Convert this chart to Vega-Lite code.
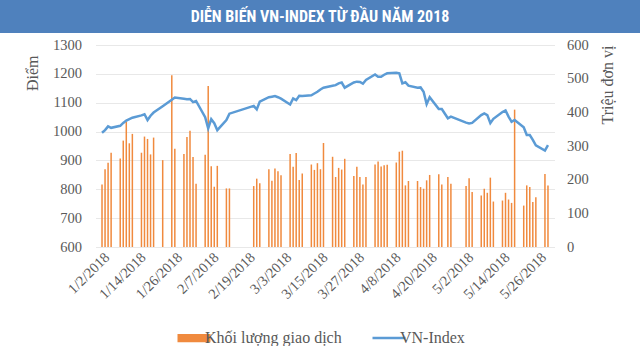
{
  "$schema": "https://vega.github.io/schema/vega-lite/v6.json",
  "padding": 0,
  "background": "white",
  "spacing": 12,
  "center": true,
  "bounds": "flush",
  "align": {"row": "none", "column": "each"},
  "config": {"view": {"stroke": null}, "font": "Liberation Serif"},
  "datasets": {
    "vn": [
      {"date": "2018-01-02", "vol": 186, "idx": 996},
      {"date": "2018-01-03", "vol": 231, "idx": 1005},
      {"date": "2018-01-04", "vol": 250, "idx": 1018},
      {"date": "2018-01-05", "vol": 280, "idx": 1013},
      {"date": "2018-01-08", "vol": 263, "idx": 1020},
      {"date": "2018-01-09", "vol": 316, "idx": 1030},
      {"date": "2018-01-10", "vol": 372, "idx": 1038},
      {"date": "2018-01-11", "vol": 308, "idx": 1043},
      {"date": "2018-01-12", "vol": 336, "idx": 1048},
      {"date": "2018-01-15", "vol": 280, "idx": 1056},
      {"date": "2018-01-16", "vol": 328, "idx": 1060},
      {"date": "2018-01-17", "vol": 321, "idx": 1040},
      {"date": "2018-01-18", "vol": 275, "idx": 1055},
      {"date": "2018-01-19", "vol": 325, "idx": 1066},
      {"date": "2018-01-22", "vol": 258, "idx": 1088},
      {"date": "2018-01-25", "vol": 510, "idx": 1110},
      {"date": "2018-01-26", "vol": 292, "idx": 1118},
      {"date": "2018-01-29", "vol": 276, "idx": 1114},
      {"date": "2018-01-30", "vol": 327, "idx": 1112},
      {"date": "2018-01-31", "vol": 345, "idx": 1113},
      {"date": "2018-02-01", "vol": 267, "idx": 1102},
      {"date": "2018-02-02", "vol": 188, "idx": 1106},
      {"date": "2018-02-05", "vol": 274, "idx": 1050},
      {"date": "2018-02-06", "vol": 478, "idx": 1011},
      {"date": "2018-02-07", "vol": 240, "idx": 1043},
      {"date": "2018-02-08", "vol": 179, "idx": 1029},
      {"date": "2018-02-09", "vol": 241, "idx": 1005},
      {"date": "2018-02-12", "vol": 174, "idx": 1040},
      {"date": "2018-02-13", "vol": 174, "idx": 1062},
      {"date": "2018-02-21", "vol": 181, "idx": 1089},
      {"date": "2018-02-22", "vol": 203, "idx": 1077},
      {"date": "2018-02-23", "vol": 189, "idx": 1104},
      {"date": "2018-02-26", "vol": 231, "idx": 1119},
      {"date": "2018-02-27", "vol": 197, "idx": 1121},
      {"date": "2018-02-28", "vol": 233, "idx": 1123},
      {"date": "2018-03-01", "vol": 225, "idx": 1119},
      {"date": "2018-03-02", "vol": 213, "idx": 1114},
      {"date": "2018-03-05", "vol": 276, "idx": 1094},
      {"date": "2018-03-06", "vol": 238, "idx": 1115},
      {"date": "2018-03-07", "vol": 279, "idx": 1109},
      {"date": "2018-03-08", "vol": 199, "idx": 1124},
      {"date": "2018-03-09", "vol": 218, "idx": 1123},
      {"date": "2018-03-12", "vol": 245, "idx": 1126},
      {"date": "2018-03-13", "vol": 229, "idx": 1132},
      {"date": "2018-03-14", "vol": 249, "idx": 1138},
      {"date": "2018-03-15", "vol": 231, "idx": 1146},
      {"date": "2018-03-16", "vol": 309, "idx": 1152},
      {"date": "2018-03-19", "vol": 268, "idx": 1159},
      {"date": "2018-03-20", "vol": 208, "idx": 1161},
      {"date": "2018-03-21", "vol": 235, "idx": 1167},
      {"date": "2018-03-22", "vol": 230, "idx": 1170},
      {"date": "2018-03-23", "vol": 262, "idx": 1152},
      {"date": "2018-03-26", "vol": 211, "idx": 1170},
      {"date": "2018-03-27", "vol": 238, "idx": 1173},
      {"date": "2018-03-28", "vol": 208, "idx": 1172},
      {"date": "2018-03-29", "vol": 186, "idx": 1166},
      {"date": "2018-03-30", "vol": 208, "idx": 1179},
      {"date": "2018-04-02", "vol": 245, "idx": 1198},
      {"date": "2018-04-03", "vol": 254, "idx": 1190},
      {"date": "2018-04-04", "vol": 239, "idx": 1190},
      {"date": "2018-04-05", "vol": 243, "idx": 1197},
      {"date": "2018-04-06", "vol": 244, "idx": 1202},
      {"date": "2018-04-09", "vol": 251, "idx": 1204},
      {"date": "2018-04-10", "vol": 283, "idx": 1202},
      {"date": "2018-04-11", "vol": 286, "idx": 1167},
      {"date": "2018-04-12", "vol": 183, "idx": 1171},
      {"date": "2018-04-13", "vol": 196, "idx": 1159},
      {"date": "2018-04-16", "vol": 196, "idx": 1152},
      {"date": "2018-04-17", "vol": 178, "idx": 1153},
      {"date": "2018-04-18", "vol": 173, "idx": 1138},
      {"date": "2018-04-19", "vol": 198, "idx": 1095},
      {"date": "2018-04-20", "vol": 214, "idx": 1119},
      {"date": "2018-04-23", "vol": 216, "idx": 1078},
      {"date": "2018-04-24", "vol": 186, "idx": 1078},
      {"date": "2018-04-26", "vol": 208, "idx": 1046},
      {"date": "2018-04-27", "vol": 188, "idx": 1052},
      {"date": "2018-05-02", "vol": 181, "idx": 1031},
      {"date": "2018-05-03", "vol": 204, "idx": 1028},
      {"date": "2018-05-04", "vol": 163, "idx": 1030},
      {"date": "2018-05-07", "vol": 153, "idx": 1057},
      {"date": "2018-05-08", "vol": 173, "idx": 1063},
      {"date": "2018-05-09", "vol": 161, "idx": 1057},
      {"date": "2018-05-10", "vol": 206, "idx": 1029},
      {"date": "2018-05-11", "vol": 135, "idx": 1044},
      {"date": "2018-05-14", "vol": 138, "idx": 1068},
      {"date": "2018-05-15", "vol": 161, "idx": 1073},
      {"date": "2018-05-16", "vol": 141, "idx": 1052},
      {"date": "2018-05-17", "vol": 131, "idx": 1034},
      {"date": "2018-05-18", "vol": 408, "idx": 1040},
      {"date": "2018-05-21", "vol": 123, "idx": 1015},
      {"date": "2018-05-22", "vol": 183, "idx": 988},
      {"date": "2018-05-23", "vol": 178, "idx": 988},
      {"date": "2018-05-24", "vol": 134, "idx": 971},
      {"date": "2018-05-25", "vol": 148, "idx": 952},
      {"date": "2018-05-28", "vol": 217, "idx": 934},
      {"date": "2018-05-29", "vol": 183, "idx": 953}
    ]
  },
  "vconcat": [
    {
      "width": 650,
      "height": 33,
      "view": {"fill": "#4F81BD", "stroke": null},
      "data": {"values": [{"t": "DIỄN BIẾN VN-INDEX TỪ ĐẦU NĂM 2018"}]},
      "mark": {"type": "text", "font": "Roboto Condensed, DejaVu Sans Condensed, Liberation Sans Narrow, Roboto", "fontSize": 16, "fontWeight": "bold", "color": "white", "baseline": "middle", "align": "center", "dx": -5},
      "encoding": {"text": {"field": "t", "type": "nominal"}}
    },
    {
      "width": 459,
      "height": 202,
      "data": {"name": "vn"},
      "encoding": {
        "x": {
          "field": "date",
          "type": "temporal",
          "scale": {
            "type": "utc",
            "nice": false,
            "domain": [
              {"year": 2018, "month": 1, "date": 1, "hours": 12, "utc": true},
              {"year": 2018, "month": 5, "date": 29, "hours": 12, "utc": true}
            ]
          },
          "axis": {
            "title": null,
            "values": [
              {"year": 2018, "month": 1, "date": 2, "utc": true},
              {"year": 2018, "month": 1, "date": 14, "utc": true},
              {"year": 2018, "month": 1, "date": 26, "utc": true},
              {"year": 2018, "month": 2, "date": 7, "utc": true},
              {"year": 2018, "month": 2, "date": 19, "utc": true},
              {"year": 2018, "month": 3, "date": 3, "utc": true},
              {"year": 2018, "month": 3, "date": 15, "utc": true},
              {"year": 2018, "month": 3, "date": 27, "utc": true},
              {"year": 2018, "month": 4, "date": 8, "utc": true},
              {"year": 2018, "month": 4, "date": 20, "utc": true},
              {"year": 2018, "month": 5, "date": 2, "utc": true},
              {"year": 2018, "month": 5, "date": 14, "utc": true},
              {"year": 2018, "month": 5, "date": 26, "utc": true}
            ],
            "labelExpr": "utcFormat(datum.value, '%-m/%-d/%Y')",
            "labelAngle": -45,
            "labelFont": "Liberation Serif",
            "labelFontSize": 14.5,
            "labelColor": "#595959",
            "labelPadding": 3,
            "labelOverlap": false,
            "labelFlush": false,
            "ticks": false,
            "domain": false,
            "grid": false
          }
        }
      },
      "layer": [
        {
          "mark": {"type": "bar", "size": 1.5, "color": "#F08A3E"},
          "encoding": {
            "y": {
              "field": "vol",
              "type": "quantitative",
              "scale": {"domain": [0, 600], "nice": false},
              "axis": {
                "orient": "right",
                "title": "Triệu đơn vị",
                "titleAngle": -90,
                "titleBaseline": "top",
                "titleAnchor": "end",
                "titleFont": "Liberation Serif",
                "titleFontSize": 16,
                "titleFontWeight": "normal",
                "titleColor": "#595959",
                "titlePadding": 11,
                "format": "d",
                "values": [0, 100, 200, 300, 400, 500, 600],
                "labelFont": "Liberation Serif",
                "labelFontSize": 14.5,
                "labelColor": "#595959",
                "labelPadding": 12,
                "ticks": false,
                "domain": false,
                "grid": false
              }
            },
            "color": {
              "datum": "Khối lượng giao dịch",
              "type": "nominal",
              "scale": {"domain": ["Khối lượng giao dịch", "VN-Index"], "range": ["#F08A3E", "#5B9BD5"]},
              "legend": {
                "orient": "none",
                "legendX": 186,
                "legendY": 330,
                "direction": "horizontal",
                "title": null,
                "symbolSize": 1089,
                "labelFont": "Liberation Serif",
                "labelFontSize": 16,
                "labelColor": "#595959",
                "labelOffset": 3,
                "columnPadding": 25,
                "encode": {
                  "symbols": {
                    "update": {
                      "shape": {"signal": "datum.label == 'VN-Index' ? 'M-1,0H1' : 'M-1,-0.25H1V0.25H-1Z'"},
                      "fill": {"signal": "datum.label == 'VN-Index' ? 'transparent' : '#ED7D31'"},
                      "stroke": {"signal": "datum.label == 'VN-Index' ? '#5B9BD5' : '#ED7D31'"},
                      "strokeWidth": {"signal": "datum.label == 'VN-Index' ? 2.5 : 0"},
                      "opacity": {"value": 1}
                    }
                  }
                }
              }
            }
          }
        },
        {
          "mark": {"type": "line", "strokeWidth": 2.5},
          "encoding": {
            "y": {
              "field": "idx",
              "type": "quantitative",
              "scale": {"domain": [600, 1300], "nice": false, "zero": false},
              "axis": {
                "orient": "left",
                "title": "Điểm",
                "titleAngle": -90,
                "titleAnchor": "end",
                "titleY": 10,
                "titleFont": "Liberation Serif",
                "titleFontSize": 16,
                "titleFontWeight": "normal",
                "titleColor": "#595959",
                "titlePadding": 12,
                "format": "d",
                "values": [600, 700, 800, 900, 1000, 1100, 1200, 1300],
                "labelFont": "Liberation Serif",
                "labelFontSize": 14.5,
                "labelColor": "#595959",
                "labelPadding": 14,
                "ticks": false,
                "domain": false,
                "grid": true,
                "gridColor": "#E8E8E8",
                "gridWidth": 1
              }
            },
            "color": {"datum": "VN-Index", "type": "nominal"}
          }
        }
      ],
      "resolve": {"scale": {"y": "independent"}}
    }
  ]
}
